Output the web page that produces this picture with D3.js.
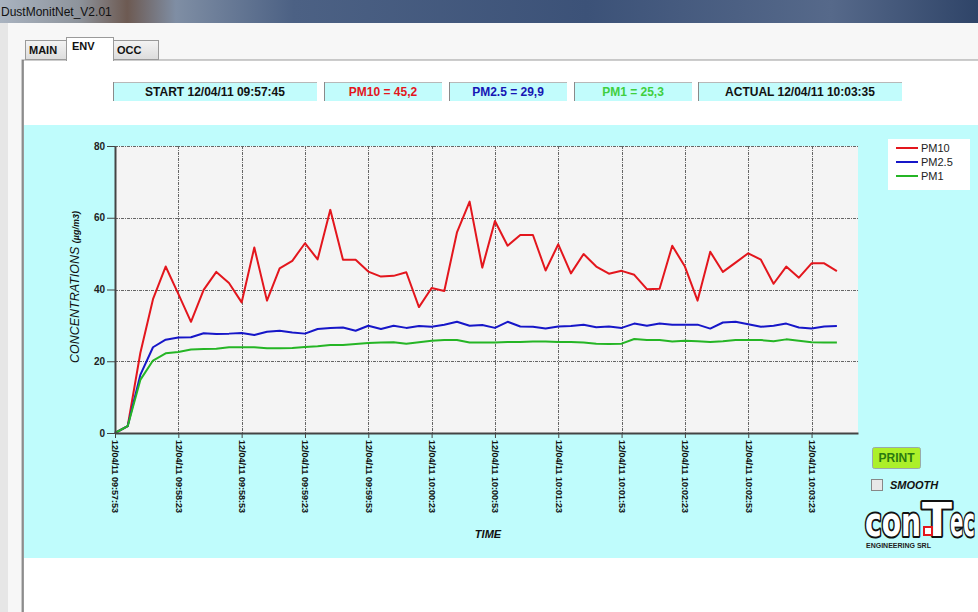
<!DOCTYPE html>
<html>
<head>
<meta charset="utf-8">
<script src="https://cdn.jsdelivr.net/npm/d3@7"></script>
<style>
  body { margin: 0; background: #fff; }
  svg { display: block; font-family: "Liberation Sans", Arial, sans-serif; }
</style>
</head>
<body>
<svg id="screen" width="978" height="612"></svg>
<script>
// Sampling: one reading every 6 seconds from the first tick
const sampleStart = "09:57:53";
const sampleStepSec = 6;
const axisEnd = "10:03:45";

// Readings (µg/m3)
const pm10 = [0, 1.9, 22.3, 37.3, 46.4, 38.8, 31.0, 39.9, 44.9, 41.8,
  36.4, 51.7, 36.9, 45.9, 48.0, 52.9, 48.4, 62.2, 48.3, 48.3,
  45.0, 43.6, 43.8, 44.8, 35.1, 40.4, 39.6, 55.9, 64.5, 46.1,
  59.1, 52.2, 55.2, 55.2, 45.3, 52.6, 44.5, 49.9, 46.4, 44.4,
  45.2, 44.1, 40.1, 40.2, 52.2, 46.4, 36.9, 50.5, 44.9, 47.5,
  50.1, 48.3, 41.6, 46.4, 43.3, 47.3, 47.3, 45.1];
const pm25 = [0, 1.9, 16.2, 23.9, 26.0, 26.6, 26.7, 27.8, 27.6, 27.7,
  27.9, 27.3, 28.2, 28.5, 28.0, 27.7, 29.0, 29.3, 29.4, 28.5,
  29.9, 29.0, 29.9, 29.3, 29.8, 29.6, 30.2, 31.0, 29.9, 30.1,
  29.3, 31.0, 29.7, 29.6, 29.1, 29.7, 29.8, 30.2, 29.5, 29.7,
  29.3, 30.5, 29.9, 30.5, 30.2, 30.2, 30.2, 29.1, 30.8, 31.0,
  30.3, 29.6, 29.9, 30.5, 29.4, 29.1, 29.7, 29.8];
const pm1 = [0, 1.9, 14.8, 20.2, 22.2, 22.6, 23.3, 23.4, 23.5, 23.9,
  23.9, 23.9, 23.6, 23.6, 23.7, 24.0, 24.2, 24.5, 24.5, 24.8,
  25.1, 25.2, 25.3, 24.9, 25.3, 25.7, 25.9, 25.9, 25.2, 25.2,
  25.2, 25.4, 25.4, 25.5, 25.5, 25.4, 25.4, 25.2, 24.9, 24.8,
  24.9, 26.2, 25.9, 25.9, 25.5, 25.7, 25.6, 25.4, 25.6, 25.9,
  25.9, 25.9, 25.6, 26.1, 25.7, 25.3, 25.2, 25.2];

const seriesNames = ["PM10", "PM2.5", "PM1"];
const seriesColors = ["#e3161d", "#1616c8", "#25b525"];

const xTickTimes = ["09:57:53", "09:58:23", "09:58:53", "09:59:23", "09:59:53", "10:00:23",
  "10:00:53", "10:01:23", "10:01:53", "10:02:23", "10:02:53", "10:03:23"];
const dateLabel = "12/04/11";
const yTicks = [0, 20, 40, 60, 80];

const headerTexts = ["START 12/04/11 09:57:45", "PM10 = 45,2", "PM2.5 = 29,9", "PM1 = 25,3", "ACTUAL 12/04/11 10:03:35"];
const headerColors = ["#111", "#e3161d", "#1616b4", "#3fcf3f", "#111"];
const tabNames = ["MAIN", "ENV", "OCC"];

// layout of the header boxes and tabs (pixels)
const headerBoxes = [[113, 204], [324, 118], [449, 118], [574, 118], [698, 204]];
const tabBoxes = [[25, 41], [66, 47], [113, 45]];

const svg = d3.select("#screen");
const parseT = d3.timeParse("%H:%M:%S");

// ---- window chrome ----
const defs = svg.append("defs");
const tg = defs.append("linearGradient").attr("id", "titlebar");
[["0%", "#a9b3c0"], ["8%", "#8e949c"], ["13%", "#6d5a52"], ["18%", "#7f8ea4"], ["30%", "#4c6184"],
 ["60%", "#3c5278"], ["85%", "#56698a"], ["100%", "#2f4468"]]
  .forEach(s => tg.append("stop").attr("offset", s[0]).attr("stop-color", s[1]));
const tabG = defs.append("linearGradient").attr("id", "tabgrad").attr("x2", 0).attr("y2", 1);
tabG.append("stop").attr("offset", "0%").attr("stop-color", "#f4f4f4");
tabG.append("stop").attr("offset", "100%").attr("stop-color", "#dcdcdc");

svg.append("rect").attr("width", 978).attr("height", 612).attr("fill", "#f7f7f7");
svg.append("rect").attr("width", 8).attr("height", 612).attr("fill", "#e6e6e6");
svg.append("rect").attr("width", 978).attr("height", 23).attr("fill", "url(#titlebar)");
svg.append("text").attr("x", 1).attr("y", 16).attr("font-size", 12)
  .attr("fill", "#111").text("DustMonitNet_V2.01");

// tab panel
svg.append("rect").attr("x", 22).attr("y", 60).attr("width", 960).attr("height", 560)
  .attr("fill", "#fff").attr("stroke", "#9a9a9a");
svg.append("line").attr("x1", 23).attr("x2", 23).attr("y1", 60).attr("y2", 612)
  .attr("stroke", "#777").attr("stroke-width", 1.5);

tabNames.forEach((t, i) => {
  const [x, w] = tabBoxes[i];
  const sel = t === "ENV";
  svg.append("rect").attr("x", x + 0.5).attr("y", sel ? 37.5 : 40.5)
    .attr("width", w).attr("height", sel ? 23 : 19)
    .attr("fill", sel ? "#fff" : "url(#tabgrad)").attr("stroke", "#9a9a9a");
  svg.append("text").attr("x", x + (sel ? 6 : 4)).attr("y", sel ? 50 : 54)
    .attr("font-size", 11).attr("font-weight", "bold").attr("fill", "#111").text(t);
});
svg.append("rect").attr("x", 67).attr("y", 59).attr("width", 46).attr("height", 3).attr("fill", "#fff");

// header value boxes
headerTexts.forEach((t, i) => {
  const [x, w] = headerBoxes[i];
  svg.append("rect").attr("x", x).attr("y", 82).attr("width", w).attr("height", 19).attr("fill", "#c2fcfc");
  svg.append("line").attr("x1", x).attr("x2", x + w).attr("y1", 82.5).attr("y2", 82.5).attr("stroke", "#b8b8b8");
  svg.append("line").attr("x1", x + 0.5).attr("x2", x + 0.5).attr("y1", 82).attr("y2", 101).attr("stroke", "#8a8a8a");
  svg.append("text").attr("x", x + w / 2).attr("y", 96).attr("text-anchor", "middle")
    .attr("font-size", 12).attr("font-weight", "bold").attr("fill", headerColors[i]).text(t);
});

// cyan chart band
svg.append("rect").attr("x", 24).attr("y", 125).attr("width", 954).attr("height", 433).attr("fill", "#bffcfc");

// ---- chart ----
const plot = {left: 115, right: 858, top: 146, bottom: 433};
const x = d3.scaleTime().domain([parseT(sampleStart), parseT(axisEnd)]).range([plot.left, plot.right]);
const y = d3.scaleLinear().domain([0, 80]).range([plot.bottom, plot.top]);
const times = pm10.map((_, i) => d3.timeSecond.offset(parseT(sampleStart), i * sampleStepSec));
const xTicks = xTickTimes.map(parseT);

svg.append("rect").attr("x", plot.left).attr("y", plot.top)
  .attr("width", plot.right - plot.left).attr("height", plot.bottom - plot.top).attr("fill", "#f4f4f4");

// grid
svg.append("g").selectAll("line").data(yTicks.filter(d => d > 0)).enter().append("line")
  .attr("x1", plot.left).attr("x2", plot.right)
  .attr("y1", d => Math.round(y(d)) + 0.5).attr("y2", d => Math.round(y(d)) + 0.5)
  .attr("stroke", "#666").attr("stroke-dasharray", "3,1,1,1");
svg.append("g").selectAll("line").data(xTicks.slice(1)).enter().append("line")
  .attr("x1", d => Math.round(x(d)) + 0.5).attr("x2", d => Math.round(x(d)) + 0.5)
  .attr("y1", plot.top).attr("y2", plot.bottom)
  .attr("stroke", "#666").attr("stroke-dasharray", "3,1,1,1");

// series lines
const line = d3.line().x((d, i) => x(times[i])).y(d => y(d));
[pm10, pm25, pm1].forEach((s, k) => {
  svg.append("path").datum(s).attr("d", line)
    .attr("fill", "none").attr("stroke", seriesColors[k]).attr("stroke-width", 2)
    .attr("stroke-linejoin", "round");
});

// axes
const yAxis = svg.append("g").attr("transform", `translate(${plot.left},0)`)
  .call(d3.axisLeft(y).tickValues(yTicks).tickSize(8).tickSizeOuter(0).tickPadding(2));
yAxis.select(".domain").attr("stroke", "#444").attr("stroke-width", 2);
yAxis.selectAll(".tick line").attr("stroke", "#444");
yAxis.selectAll("text").attr("font-size", 10).attr("font-weight", "bold").attr("fill", "#222")
  .attr("font-family", "Liberation Sans, Arial, sans-serif");

const xAxis = svg.append("g").attr("transform", `translate(0,${plot.bottom})`)
  .call(d3.axisBottom(x).tickValues(xTicks).tickSize(5).tickSizeOuter(0)
    .tickFormat(d => dateLabel + " " + d3.timeFormat("%H:%M:%S")(d)));
xAxis.select(".domain").attr("stroke", "#444").attr("stroke-width", 2);
xAxis.selectAll(".tick line").attr("stroke", "#444");
xAxis.selectAll("text")
  .attr("y", 0).attr("x", 7).attr("dy", "0.35em")
  .attr("transform", "rotate(90)").attr("text-anchor", "start")
  .attr("font-size", 9).attr("font-weight", "bold").attr("fill", "#111")
  .attr("font-family", "Liberation Sans, Arial, sans-serif");

// axis titles
const yTitle = svg.append("text").attr("transform", "translate(79,287) rotate(-90)")
  .attr("text-anchor", "middle").attr("font-style", "italic").attr("fill", "#111");
yTitle.append("tspan").attr("font-size", 12.5).text("CONCENTRATIONS ");
yTitle.append("tspan").attr("font-size", 9).attr("font-weight", "bold").text("(µg/m3)");

svg.append("text").attr("x", 488).attr("y", 538).attr("text-anchor", "middle")
  .attr("font-size", 11).attr("font-weight", "bold").attr("font-style", "italic")
  .attr("fill", "#111").text("TIME");

// legend
const legend = svg.append("g").attr("transform", "translate(888,139)");
legend.append("rect").attr("width", 82).attr("height", 51).attr("fill", "#fff");
seriesNames.forEach((n, i) => {
  legend.append("line").attr("x1", 8).attr("x2", 30).attr("y1", 9 + i * 14).attr("y2", 9 + i * 14)
    .attr("stroke", seriesColors[i]).attr("stroke-width", 2);
  legend.append("text").attr("x", 33).attr("y", 13 + i * 14).attr("font-size", 11)
    .attr("fill", "#222").text(n);
});

// print button and smooth checkbox
svg.append("rect").attr("x", 872.5).attr("y", 447.5).attr("width", 48).attr("height", 21).attr("rx", 2)
  .attr("fill", "#acf02a").attr("stroke", "#9aa");
svg.append("text").attr("x", 896.5).attr("y", 462).attr("text-anchor", "middle")
  .attr("font-size", 12).attr("font-weight", "bold").attr("fill", "#2a7a10").text("PRINT");
svg.append("rect").attr("x", 871.5).attr("y", 479.5).attr("width", 11).attr("height", 11)
  .attr("fill", "#e8e8e8").attr("stroke", "#888");
svg.append("text").attr("x", 890).attr("y", 489).attr("font-size", 11)
  .attr("font-weight", "bold").attr("font-style", "italic").attr("fill", "#111").text("SMOOTH");

// contec logo: outlined block letters (dark outline drawn under a white copy)
const logoParts = [["con", 865, 40, 56], ["T", 922, 46, 30], ["ec", 950, 40, 25]];
["outline", "face"].forEach(layer => {
  logoParts.forEach(([t, lx, fs, len]) => {
    svg.append("text").attr("x", lx).attr("y", 536).attr("font-size", fs)
      .attr("font-family", "DejaVu Sans, sans-serif").attr("font-weight", "bold")
      .attr("textLength", len).attr("lengthAdjust", "spacingAndGlyphs")
      .attr("fill", layer === "outline" ? "#111" : "#fff")
      .attr("stroke", layer === "outline" ? "#111" : "none")
      .attr("stroke-width", layer === "outline" ? 4 : 0)
      .attr("stroke-linejoin", "round").text(t);
  });
});
svg.append("rect").attr("x", 924).attr("y", 527).attr("width", 8).attr("height", 8)
  .attr("fill", "#fff").attr("stroke", "#e3161d").attr("stroke-width", 2);
svg.append("text").attr("x", 866).attr("y", 548).attr("font-size", 7)
  .attr("font-weight", "bold").attr("fill", "#222").text("ENGINEERING SRL");
</script>
</body>
</html>
